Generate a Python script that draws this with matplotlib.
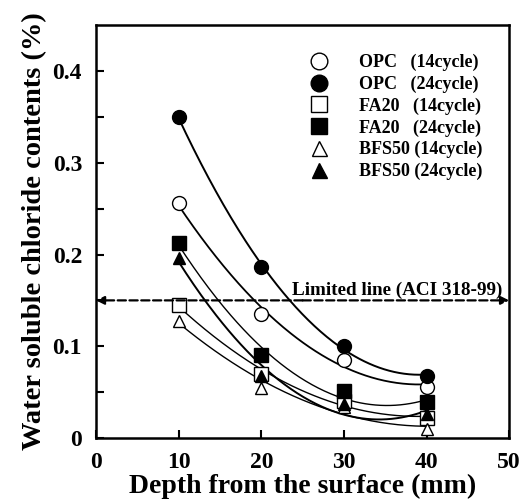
import numpy as np
import matplotlib
matplotlib.use("Agg")
import matplotlib.pyplot as plt

plt.rcParams['font.family'] = ['Liberation Serif', 'DejaVu Serif']
plt.rcParams['font.weight'] = 'bold'

depth = [10, 20, 30, 40]
opc14 = [0.256, 0.135, 0.085, 0.056]
opc24 = [0.350, 0.186, 0.100, 0.068]
fa14 = [0.145, 0.070, 0.040, 0.022]
fa24 = [0.213, 0.091, 0.051, 0.039]
bfs14 = [0.128, 0.055, 0.034, 0.010]
bfs24 = [0.196, 0.068, 0.037, 0.026]
labels = ["OPC   (14cycle)", "OPC   (24cycle)", "FA20   (14cycle)", "FA20   (24cycle)",
          "BFS50 (14cycle)", "BFS50 (24cycle)"]
limit = 0.15
limit_label = "Limited line (ACI 318-99)"

series = [opc14, opc24, fa14, fa24, bfs14, bfs24]
markers = ['o', 'o', 's', 's', '^', '^']
fills = ['white', 'black', 'white', 'black', 'white', 'black']
msizes = [10, 10, 10, 10, 9, 9]
lws = [1.3, 1.4, 1.0, 1.0, 1.0, 1.4]

fig = plt.figure(figsize=(5.26, 5.04), dpi=100)
ax = fig.add_axes([0.1825, 0.131, 0.7855, 0.819])

xs = np.linspace(10, 40, 200)
handles = []
for ys, m, fc, ms, lw, lab in zip(series, markers, fills, msizes, lws, labels):
    c = np.polyfit(depth, ys, 2)
    ax.plot(xs, np.polyval(c, xs), color='black', lw=lw, zorder=2)
    h, = ax.plot(depth, ys, linestyle='none', marker=m, markerfacecolor=fc,
                 markeredgecolor='black', markersize=ms, markeredgewidth=1.0,
                 label=lab, zorder=3)
    handles.append(h)

ax.annotate('', xy=(0, limit), xytext=(25, limit),
            arrowprops=dict(arrowstyle='-|>', color='black', lw=1.6, linestyle='--',
                            shrinkA=0, shrinkB=0, mutation_scale=12))
ax.annotate('', xy=(50, limit), xytext=(25, limit),
            arrowprops=dict(arrowstyle='-|>', color='black', lw=1.6, linestyle='--',
                            shrinkA=0, shrinkB=0, mutation_scale=12))
ax.text(36.4, limit + 0.002, limit_label, ha='center', va='bottom', fontsize=13.8,
        fontweight='bold')

ax.set_xlim(0, 50)
ax.set_ylim(0, 0.45)
ax.set_xticks([0, 10, 20, 30, 40, 50])
ax.set_xticklabels(['0', '10', '20', '30', '40', '50'])
ax.set_yticks([0, 0.1, 0.2, 0.3, 0.4])
ax.set_yticklabels(['0', '0.1', '0.2', '0.3', '0.4'])
ax.set_yticks([0.05, 0.15, 0.25, 0.35], minor=True)
ax.tick_params(axis='both', which='major', direction='in', length=6, width=1.5,
               labelsize=17)
ax.tick_params(axis='x', which='major', pad=10)
ax.tick_params(axis='y', which='major', pad=10)
ax.tick_params(axis='y', which='minor', direction='in', length=6, width=1.5)
for lbl in ax.get_xticklabels() + ax.get_yticklabels():
    lbl.set_fontweight('bold')
for s in ax.spines.values():
    s.set_linewidth(1.8)

ax.set_xlabel('Depth from the surface (mm)', fontsize=20, fontweight='bold', labelpad=1)
ax.set_ylabel('Water soluble chloride contents (%)', fontsize=20.5, fontweight='bold', labelpad=4)

leg = ax.legend(handles=handles, loc='upper right', bbox_to_anchor=(0.975, 0.97),
                frameon=False, fontsize=13, handlelength=1.0, handletextpad=1.7,
                labelspacing=0.25, markerscale=1.2)
for t in leg.get_texts():
    t.set_fontweight('bold')

fig.savefig('out.png', dpi=100)
